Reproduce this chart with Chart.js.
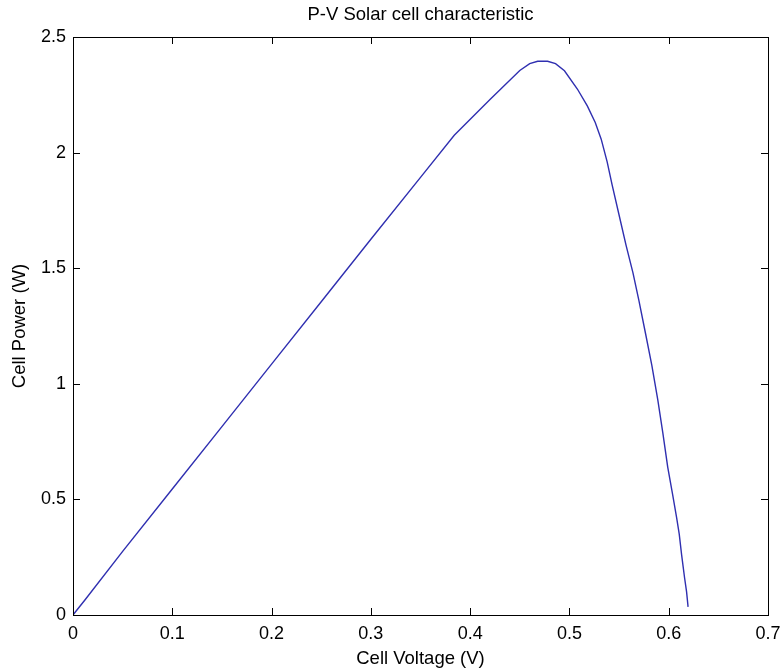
<!DOCTYPE html>
<html>
<head>
<meta charset="utf-8">
<script src="https://cdn.jsdelivr.net/npm/chart.js@4/dist/chart.umd.min.js"></script>
<style>
html,body{margin:0;padding:0;background:#fff;}
#wrap{width:782px;height:670px;position:relative;}
</style>
</head>
<body>
<div id="wrap"><canvas id="c" width="782" height="670"></canvas></div>
<script>
const voltage = [0, 0.012, 0.05, 0.1, 0.15, 0.2, 0.25, 0.3, 0.35, 0.384, 0.42, 0.45, 0.46, 0.468, 0.478, 0.486, 0.495, 0.508, 0.518, 0.526, 0.532, 0.538, 0.543, 0.55, 0.557, 0.564, 0.57, 0.577, 0.583, 0.589, 0.594, 0.599, 0.604, 0.608, 0.6106, 0.613, 0.616, 0.618, 0.6195];
const power   = [0, 0.065, 0.275, 0.545, 0.815, 1.085, 1.355, 1.625, 1.893, 2.075, 2.23, 2.355, 2.385, 2.395, 2.395, 2.385, 2.354, 2.275, 2.202, 2.13, 2.058, 1.96, 1.86, 1.73, 1.6, 1.48, 1.36, 1.21, 1.08, 0.93, 0.79, 0.64, 0.52, 0.42, 0.35, 0.26, 0.16, 0.1, 0.035];
const xTicks = [0, 0.1, 0.2, 0.3, 0.4, 0.5, 0.6, 0.7];
const yTicks = [0, 0.5, 1, 1.5, 2, 2.5];
const titleText = 'P-V Solar cell characteristic';
const xLabel = 'Cell Voltage (V)';
const yLabel = 'Cell Power (W)';

const FONT = "'Liberation Sans', Arial, sans-serif";

const boxTicks = {
  id: 'boxTicks',
  afterDraw(chart) {
    const {ctx, chartArea: a, scales: {x, y}} = chart;
    ctx.save();
    ctx.strokeStyle = '#000';
    ctx.lineWidth = 1;
    ctx.strokeRect(Math.round(a.left) + 0.5, Math.round(a.top) + 0.5, Math.round(a.right - a.left), Math.round(a.bottom - a.top));
    const L = 7;
    ctx.beginPath();
    xTicks.forEach(v => {
      const px = Math.round(x.getPixelForValue(v)) + 0.5;
      ctx.moveTo(px, a.bottom); ctx.lineTo(px, a.bottom - L);
      ctx.moveTo(px, a.top); ctx.lineTo(px, a.top + L);
    });
    yTicks.forEach(v => {
      const py = Math.round(y.getPixelForValue(v)) + 0.5;
      ctx.moveTo(a.left, py); ctx.lineTo(a.left + L, py);
      ctx.moveTo(a.right, py); ctx.lineTo(a.right - L, py);
    });
    ctx.stroke();
    ctx.restore();
  }
};

new Chart(document.getElementById('c'), {
  type: 'scatter',
  data: {
    datasets: [{
      data: voltage.map((v, i) => ({x: v, y: power[i]})),
      showLine: true,
      borderColor: '#2f2fb0',
      borderWidth: 1.4,
      pointRadius: 0,
      tension: 0,
      fill: false
    }]
  },
  options: {
    responsive: false,
    animation: false,
    layout: {padding: {left: 0, right: 14, top: 0, bottom: 0}},
    plugins: {
      legend: {display: false},
      tooltip: {enabled: false},
      title: {
        display: true,
        fullSize: false,
        text: titleText,
        color: '#000',
        font: {family: FONT, size: 18.5, weight: 'normal'},
        padding: {top: 4, bottom: 10.8}
      }
    },
    scales: {
      x: {
        type: 'linear',
        min: 0, max: 0.7,
        afterBuildTicks: s => { s.ticks = xTicks.map(v => ({value: v})); },
        afterFit: s => { s.height = 55; s.paddingLeft = 0; s.paddingRight = 0; },
        grid: {display: false, drawTicks: false},
        border: {display: false},
        ticks: {
          color: '#000',
          padding: 8,
          maxRotation: 0,
          font: {family: FONT, size: 18},
          callback: v => String(v)
        },
        title: {
          display: true,
          text: xLabel,
          color: '#000',
          font: {family: FONT, size: 18.5},
          padding: {top: 2, bottom: 0}
        }
      },
      y: {
        type: 'linear',
        min: 0, max: 2.5,
        afterBuildTicks: s => { s.ticks = yTicks.map(v => ({value: v})); },
        afterFit: s => { s.width = 73; s.paddingTop = 0; s.paddingBottom = 0; },
        grid: {display: false, drawTicks: false},
        border: {display: false},
        ticks: {
          color: '#000',
          padding: 7,
          font: {family: FONT, size: 18},
          callback: v => String(v)
        },
        title: {
          display: true,
          text: yLabel,
          color: '#000',
          font: {family: FONT, size: 18.5},
          padding: {top: 9, bottom: 0}
        }
      }
    }
  },
  plugins: [boxTicks]
});
</script>
</body>
</html>
